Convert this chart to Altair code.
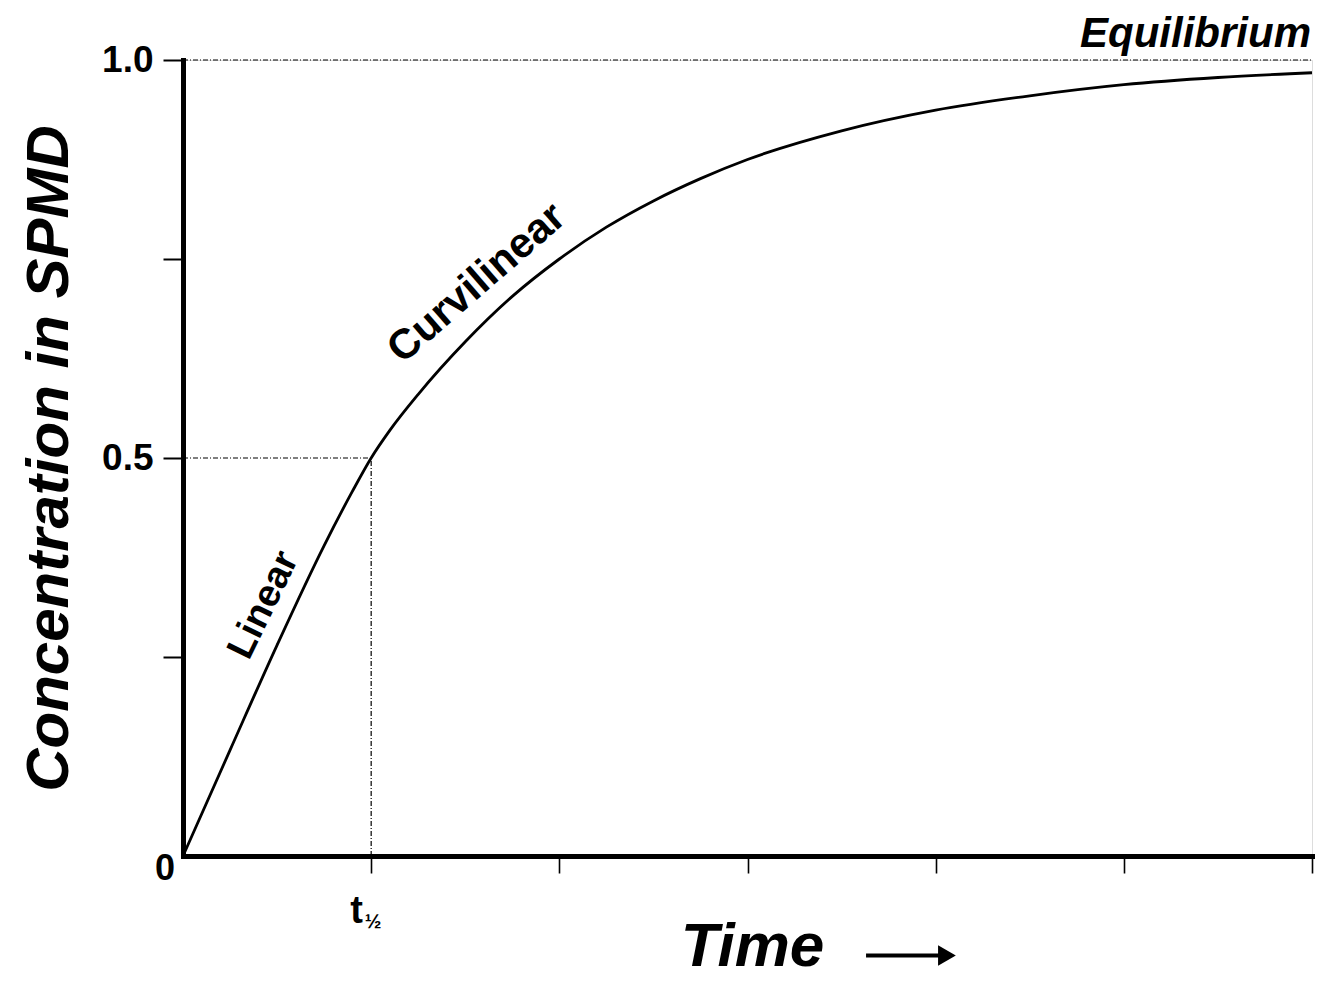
import altair as alt
import pandas as pd

# Uptake curve (time in half-life units, fraction of equilibrium)
time = [0, 0.25, 0.5, 0.75, 0.9, 1.0, 1.1, 1.25, 1.5, 1.75, 2.0, 2.25, 2.5, 2.75,
        3.0, 3.5, 4.0, 4.5, 5.0, 5.5, 6.0]
conc = [0, 0.133, 0.265, 0.39, 0.458, 0.50, 0.535, 0.58, 0.646, 0.703, 0.75, 0.79,
        0.823, 0.851, 0.875, 0.911, 0.937, 0.955, 0.969, 0.978, 0.984]

# Dotted guide lines (start/end in data units)
guide_t = [0, 0, 1]
guide_t2 = [6, 1, 1]
guide_c = [1.0, 0.5, 0]
guide_c2 = [1.0, 0.5, 0.5]

# Axis ticks
x_ticks = [1, 2, 3, 4, 5, 6]
y_ticks = [0.25, 0.5, 0.75, 1.0]

# "Time ->" arrow (data units, drawn below the axis)
arrow_t = [3.63, 4.06]
arrow_c = [-0.125, -0.125]

FONT = "Liberation Sans"

curve_df = pd.DataFrame({"t": time, "c": conc})
guide_df = pd.DataFrame({"t": guide_t, "t2": guide_t2, "c": guide_c, "c2": guide_c2})
shaft_df = pd.DataFrame({"t": [arrow_t[0]], "t2": [arrow_t[1]], "c": [arrow_c[0]]})
head_df = pd.DataFrame({"t": [arrow_t[1]], "c": [arrow_c[1]]})

xscale = alt.Scale(domain=[0, 6], nice=False, zero=False)
yscale = alt.Scale(domain=[0, 1], nice=False, zero=False)

x_axis = alt.Axis(
    values=x_ticks, grid=False, domainWidth=5, domainColor="black", domainCap="square",
    tickSize=17, tickWidth=1.6, tickColor="black",
    labelExpr="datum.value == 1 ? 't' : ''", labelFont=FONT, labelFontSize=38,
    labelFontWeight="bold", labelColor="black", labelPadding=19, labelOffset=-15,
    title="Time", titleFont=FONT, titleFontSize=62, titleFontWeight="bold",
    titleFontStyle="italic", titleColor="black", titleX=569, titleY=109,
    titleAlign="center", titleBaseline="alphabetic",
)
y_axis = alt.Axis(
    values=y_ticks, grid=False, domainWidth=5, domainColor="black", domainCap="square",
    tickSize=20, tickWidth=2, tickColor="black",
    labelExpr="datum.value == 1 ? '1.0' : (datum.value == 0.5 ? '0.5' : '')",
    labelFont=FONT, labelFontSize=37, labelFontWeight="bold", labelColor="black",
    labelPadding=10,
    title="Concentration in SPMD", titleFont=FONT, titleFontSize=60,
    titleFontWeight="bold", titleFontStyle="italic", titleColor="black",
    titleAngle=270, titleX=-116, titleY=398, titleAlign="center",
    titleBaseline="alphabetic",
)

guides = alt.Chart(guide_df).mark_rule(
    color="black", strokeWidth=1.2, strokeDash=[5, 2, 1, 2]
).encode(
    x=alt.X("t:Q", scale=xscale, axis=x_axis),
    x2="t2:Q",
    y=alt.Y("c:Q", scale=yscale, axis=y_axis),
    y2="c2:Q",
)

curve = alt.Chart(curve_df).mark_line(
    color="black", strokeWidth=2.8, interpolate="monotone"
).encode(
    x=alt.X("t:Q", scale=xscale),
    y=alt.Y("c:Q", scale=yscale),
)

shaft = alt.Chart(shaft_df).mark_rule(color="black", strokeWidth=4).encode(
    x=alt.X("t:Q", scale=xscale),
    x2="t2:Q",
    y=alt.Y("c:Q", scale=yscale),
)
head = alt.Chart(head_df).mark_point(
    shape="triangle-right", filled=True, color="black", size=420, opacity=1
).encode(
    x=alt.X("t:Q", scale=xscale),
    y=alt.Y("c:Q", scale=yscale),
)


def label(text, t, c, **kw):
    df = pd.DataFrame({"t": [t], "c": [c], "label": [text]})
    return alt.Chart(df).mark_text(font=FONT, color="black", **kw).encode(
        x=alt.X("t:Q", scale=xscale),
        y=alt.Y("c:Q", scale=yscale),
        text="label:N",
    )


linear_lbl = label("Linear", 0.43, 0.315, fontSize=38, fontWeight="bold",
                   angle=296, align="center", baseline="middle")
curvi_lbl = label("Curvilinear", 1.56, 0.72, fontSize=42, fontWeight="bold",
                  angle=319, align="center", baseline="middle")
equil_lbl = label("Equilibrium", 6, 1.0, fontSize=42, fontWeight="bold",
                  fontStyle="italic", align="right", baseline="alphabetic", dx=-1, dy=-13)
zero_lbl = label("0", 0, 0, fontSize=36, fontWeight="bold",
                 align="center", baseline="middle", dx=-18, dy=13)
half_lbl = label("½", 1, 0, fontSize=20, fontWeight="bold",
                 align="center", baseline="middle", dx=2, dy=66)

chart = alt.layer(
    guides, curve, shaft, head, linear_lbl, curvi_lbl, equil_lbl, zero_lbl, half_lbl
).properties(
    width=1129, height=796,
    autosize=alt.AutoSizeParams(type="none"),
    padding={"left": 175, "top": 52, "right": 6, "bottom": 122},
).configure_view(stroke=None).configure(background="white")

chart.save("out.html", embed_options={"renderer": "svg", "actions": False})
